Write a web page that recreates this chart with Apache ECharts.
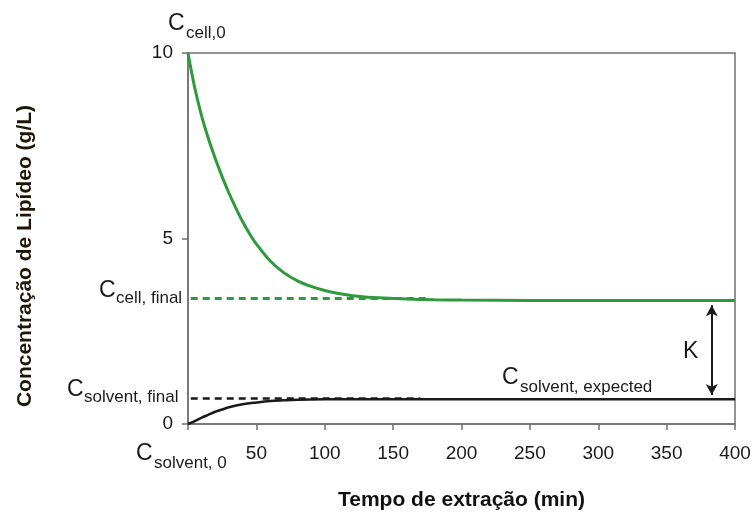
<!DOCTYPE html>
<html>
<head>
<meta charset="utf-8">
<script src="https://cdn.jsdelivr.net/npm/echarts@6/dist/echarts.min.js"></script>
<style>html,body{margin:0;padding:0;background:#fff}#c{width:755px;height:514px}</style>
</head>
<body>
<div id="c"></div>
<script>
// ---- data ----
const xTicks = [0, 50, 100, 150, 200, 250, 300, 350, 400];
const yTicks = [0, 5, 10];
const cellTime  = [0, 5, 10, 15, 20, 25, 30, 35, 40, 45, 50, 60, 70, 80, 90, 100, 110, 120, 140, 160, 180, 200, 250, 300, 350, 400];
const cellConc  = [10, 9.05, 8.3, 7.68, 7.15, 6.66, 6.22, 5.82, 5.45, 5.13, 4.85, 4.40, 4.08, 3.86, 3.71, 3.60, 3.52, 3.46, 3.40, 3.37, 3.35, 3.34, 3.33, 3.33, 3.33, 3.33];
const solvTime  = [0, 5, 10, 15, 20, 25, 30, 40, 50, 60, 70, 80, 100, 150, 200, 250, 300, 350, 400];
const solvConc  = [0, 0.08, 0.17, 0.25, 0.33, 0.39, 0.45, 0.53, 0.58, 0.62, 0.64, 0.655, 0.665, 0.67, 0.67, 0.67, 0.67, 0.67, 0.67];
const cellFinalDashed = { from: 2, to: 175, value: 3.39 };
const solvFinalDashed = { from: 2, to: 170, value: 0.70 };
const kArrow = { x: 383, top: 3.2, bottom: 0.78 };

const font = "'Liberation Sans',Arial,sans-serif";
const axisGrey = '#707070';
const green = '#2f9a3b';
const ink = '#1a1a1a';

const chart = echarts.init(document.getElementById('c'), null, { renderer: 'canvas' });

function label(cx, cy, sx, sy, subText) {
  return [
    { type: 'text', x: cx, y: cy, style: { text: 'C', font: '23px ' + font, fill: ink, verticalAlign: 'middle' } },
    { type: 'text', x: sx, y: sy, style: { text: subText, font: '17px ' + font, fill: ink, verticalAlign: 'middle' } }
  ];
}

const option = {
  animation: false,
  backgroundColor: '#fff',
  grid: { left: 188, right: 20, top: 53, bottom: 90, show: true, borderColor: axisGrey, borderWidth: 1.5,
          containLabel: false, outerBoundsMode: 'none' },
  xAxis: {
    type: 'value', min: 0, max: 400, interval: 50,
    axisLine: { show: true, lineStyle: { color: axisGrey, width: 1.5 } },
    axisTick: { show: true, inside: false, length: 6, lineStyle: { color: axisGrey, width: 1.5 } },
    splitLine: { show: false },
    axisLabel: { margin: 20, fontSize: 19, fontFamily: font, color: ink,
      formatter: v => (v === 0 ? '' : String(v)) },
    name: 'Tempo de extração (min)', nameLocation: 'middle', nameGap: 66,
    nameTextStyle: { fontSize: 21, fontWeight: 'bold', fontFamily: font, color: '#111' }
  },
  yAxis: {
    type: 'value', min: 0, max: 10, interval: 5,
    axisLine: { show: true, lineStyle: { color: axisGrey, width: 1.5 } },
    axisTick: { show: true, inside: false, length: 6, lineStyle: { color: axisGrey, width: 1.5 } },
    splitLine: { show: false },
    axisLabel: { margin: 15, fontSize: 19, fontFamily: font, color: ink }
  },
  series: [
    {
      type: 'line', name: 'cell', data: cellTime.map((t, i) => [t, cellConc[i]]),
      smooth: 0.35, showSymbol: false, lineStyle: { color: green, width: 3 }, z: 3
    },
    {
      type: 'line', name: 'solvent', data: solvTime.map((t, i) => [t, solvConc[i]]),
      smooth: 0.35, showSymbol: false, lineStyle: { color: ink, width: 2.5 }, z: 3,
      markLine: {
        silent: true, symbol: ['none', 'none'], label: { show: false },
        data: [
          [{ coord: [cellFinalDashed.from, cellFinalDashed.value], lineStyle: { color: green, type: [7, 5], width: 3 } },
           { coord: [cellFinalDashed.to, cellFinalDashed.value] }],
          [{ coord: [solvFinalDashed.from, solvFinalDashed.value], lineStyle: { color: ink, type: [7, 5], width: 2.5 } },
           { coord: [solvFinalDashed.to, solvFinalDashed.value] }],
          [{ coord: [kArrow.x, kArrow.top], symbol: 'arrow', symbolSize: [9, 11], lineStyle: { color: ink, type: 'solid', width: 2 } },
           { coord: [kArrow.x, kArrow.bottom], symbol: 'arrow', symbolSize: [9, 11] }]
        ]
      }
    }
  ],
  graphic: [
    { type: 'text', x: 25, y: 256, rotation: Math.PI / 2,
      style: { text: 'Concentração de Lipídeo (g/L)', font: 'bold 21px ' + font, fill: '#1f1408', align: 'center', verticalAlign: 'middle' } },
    ...label(168, 24, 186, 33, 'cell,0'),
    ...label(99, 291, 116, 298, 'cell, final'),
    ...label(67, 390, 84, 397, 'solvent, final'),
    ...label(136, 454, 154, 463, 'solvent, 0'),
    ...label(502, 378, 520, 387, 'solvent, expected'),
    { type: 'text', x: 683, y: 352, style: { text: 'K', font: '23px ' + font, fill: ink, verticalAlign: 'middle' } }
  ]
};
chart.setOption(option);
</script>
</body>
</html>
